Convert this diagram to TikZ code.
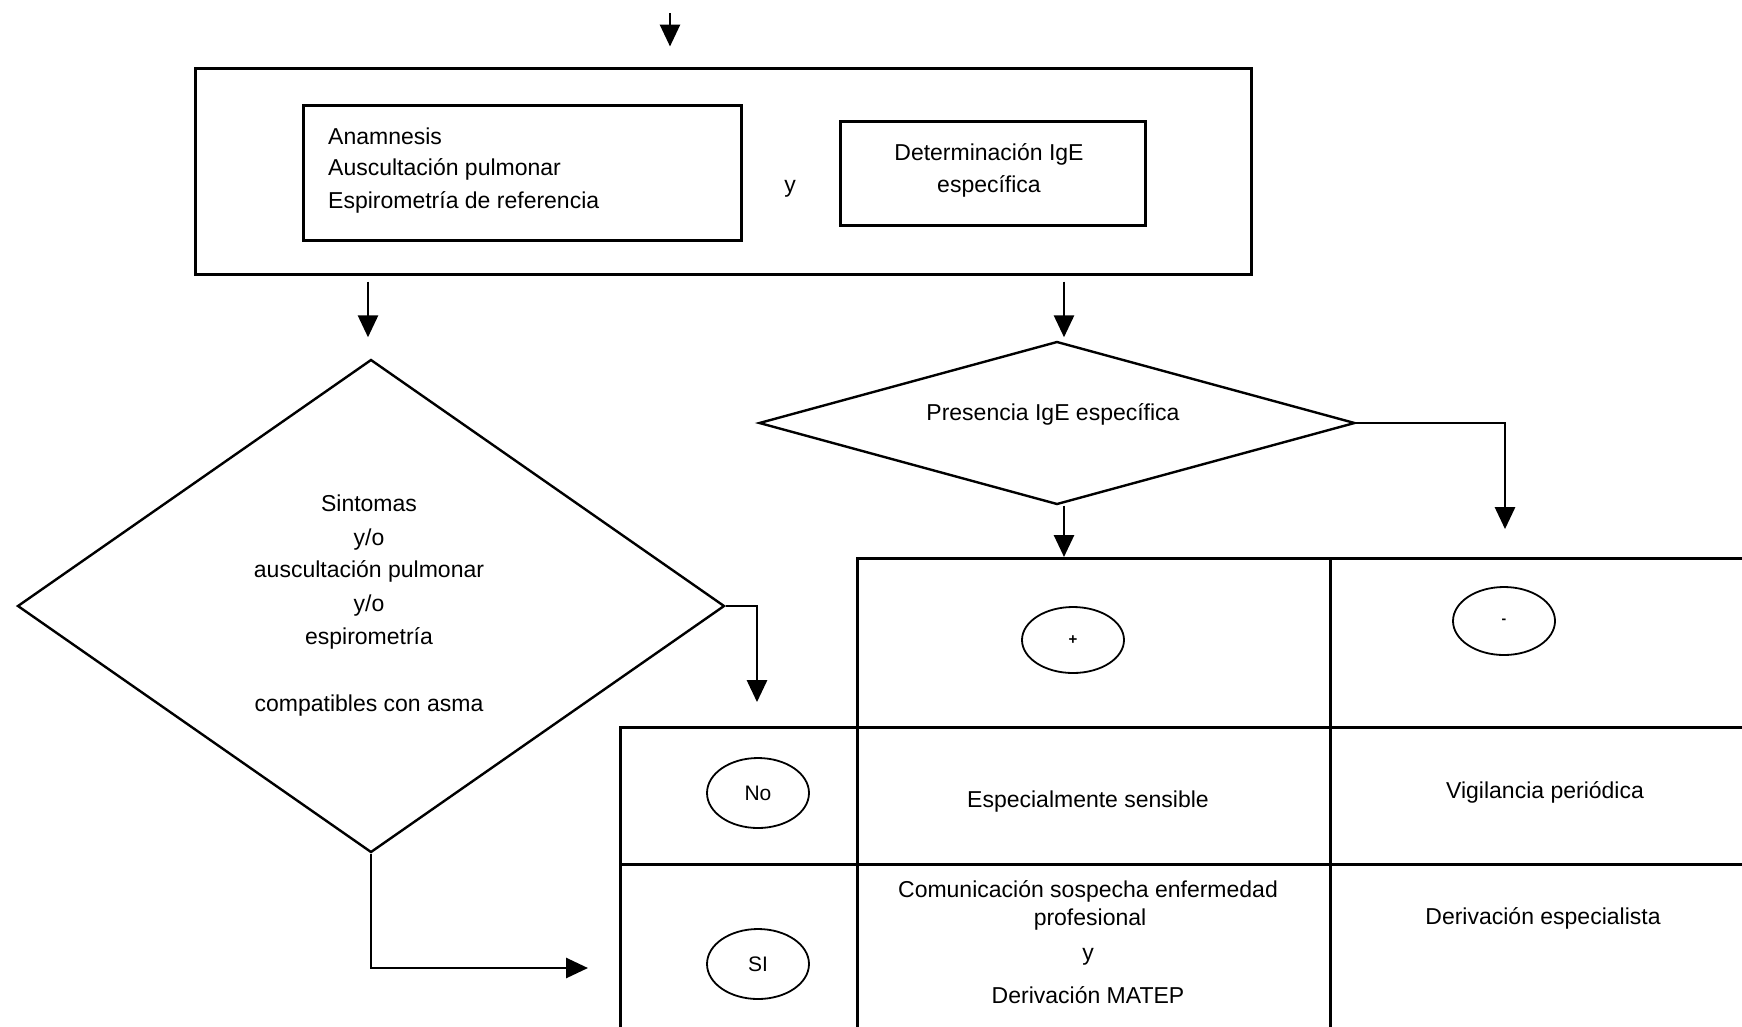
\documentclass[tikz,border=0pt]{standalone}
\usepackage{fontspec}
\setmainfont{Liberation Sans}
\usetikzlibrary{shapes.geometric,arrows.meta,calc}

\begin{document}
\begin{tikzpicture}[x=1pt,y=-1pt,
  box/.style={draw,line width=3pt,inner sep=0pt},
  cell/.style={draw,line width=3pt,inner sep=0pt,anchor=north west},
  decision/.style={draw,diamond,line width=2.4pt,inner sep=0pt},
  oval/.style={draw,ellipse,line width=1.8pt,inner sep=0pt},
  txt/.style={font=\fontsize{23}{32}\selectfont,inner sep=0pt},
  arr/.style={line width=2.8pt,-{Triangle[length=22pt,width=20pt]}},
]
\useasboundingbox (0,0) rectangle (1742,1026);
\clip (0,0) rectangle (1742,1026);

% --- top block: examinations ---
\node[box,minimum width=1056pt,minimum height=206pt] (outer) at (723,171) {};
\node[box,minimum width=438pt,minimum height=135pt] (lbox) at (522,172.5) {};
\node[box,minimum width=305pt,minimum height=104pt] (rbox) at (992.5,173) {};

\node[txt,anchor=base west] (l1) at (328,144) {Anamnesis};
\node[txt,anchor=base west] (l2) at (328,175) {Auscultación pulmonar};
\node[txt,anchor=base west] (l3) at (328,208) {Espirometría de referencia};
\node[txt,anchor=base] (yand) at (790,192) {y};
\node[txt,anchor=base] (r1) at (989,160) {Determinación IgE};
\node[txt,anchor=base] (r2) at (989,192) {específica};

% --- decisions ---
\node[decision,minimum width=707pt,minimum height=493pt] (ld) at (371,606) {};
\node[decision,minimum width=596pt,minimum height=163pt] (rd) at (1057,423) {};

\node[txt,anchor=base] (d1) at (369,511) {Sintomas};
\node[txt,anchor=base] (d2) at (369,545) {y/o};
\node[txt,anchor=base] (d3) at (369,577) {auscultación pulmonar};
\node[txt,anchor=base] (d4) at (369,611) {y/o};
\node[txt,anchor=base] (d5) at (369,644) {espirometría};
\node[txt,anchor=base] (d6) at (369,711) {compatibles con asma};
\node[txt,anchor=base] (p1) at (1053,420) {Presencia IgE específica};

% --- result table ---
\node[cell,minimum width=473pt,minimum height=169pt] (pluscell) at (856,557) {};
\node[cell,minimum width=450pt,minimum height=169pt] (minuscell) at (1329,557) {};
\node[cell,minimum width=237pt,minimum height=137pt] (nocell) at (619,726) {};
\node[cell,minimum width=473pt,minimum height=137pt] (espcell) at (856,726) {};
\node[cell,minimum width=450pt,minimum height=137pt] (vigcell) at (1329,726) {};
\node[cell,minimum width=237pt,minimum height=200pt] (sicell) at (619,863) {};
\node[cell,minimum width=473pt,minimum height=200pt] (comcell) at (856,863) {};
\node[cell,minimum width=450pt,minimum height=200pt] (dercell) at (1329,863) {};

\node[oval,minimum width=102pt,minimum height=66pt] (plus) at (1073,640) {\fontsize{15}{15}\selectfont\bfseries +};
\node[oval,minimum width=102pt,minimum height=68pt] (minus) at (1504,621) {\fontsize{14}{14}\selectfont\bfseries -};
\node[oval,minimum width=102pt,minimum height=70pt] (no) at (758,793) {\fontsize{21}{21}\selectfont No};
\node[oval,minimum width=102pt,minimum height=70pt] (si) at (758,964) {\fontsize{21}{21}\selectfont SI};

\node[txt,anchor=base] (t1) at (1088,807) {Especialmente sensible};
\node[txt,anchor=base] (t2) at (1545,798) {Vigilancia periódica};
\node[txt,anchor=base] (t3) at (1088,897) {Comunicación sospecha enfermedad};
\node[txt,anchor=base] (t4) at (1090,925) {profesional};
\node[txt,anchor=base] (t5) at (1088,960) {y};
\node[txt,anchor=base] (t6) at (1088,1003) {Derivación MATEP};
\node[txt,anchor=base] (t7) at (1543,924) {Derivación especialista};

% --- connectors ---
\coordinate (entry) at (670,13);
\coordinate (sitip) at (588,968);
\draw[arr] (entry) -- ($(outer.north -| entry)+(0,-20)$);
\draw[arr] ($(outer.south -| ld.north)+(-3,6)$) -- ($(ld.north)+(-3,-21)$);
\draw[arr] ($(outer.south -| rd.north)+(7,6)$) -- ($(rd.north)+(7,-3)$);
\draw[arr] ($(rd.south)+(7,0)$) -- ($(pluscell.north west)+(208,0)$);
\draw[arr] (rd.east) -| ($(minus.north)+(1,-57)$);
\draw[arr] (ld.east) -| ($(no.north)+(-1,-55)$);
\draw[arr] (ld.south) |- (sitip);
\end{tikzpicture}
\end{document}
